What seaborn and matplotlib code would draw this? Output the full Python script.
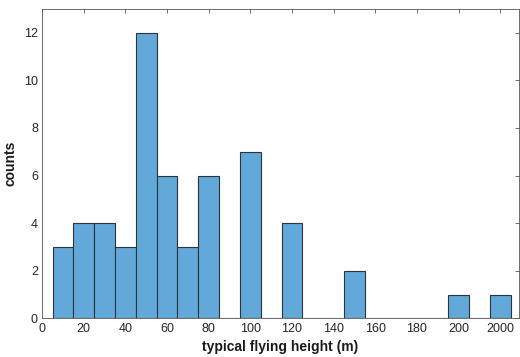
import matplotlib
matplotlib.use("Agg")
import matplotlib.pyplot as plt
import seaborn as sns
import pandas as pd

# bin centers (m) and counts
bin_centers = [10, 20, 30, 40, 50, 60, 70, 80, 100, 120, 150, 200, 220]
counts = [3, 4, 4, 3, 12, 6, 3, 6, 7, 4, 2, 1, 1]
bin_edges = list(range(5, 226, 10))
tick_positions = [0, 20, 40, 60, 80, 100, 120, 140, 160, 180, 200, 220]
tick_labels = ["0", "20", "40", "60", "80", "100", "120", "140", "160", "180", "200", "2000"]
y_ticks = [0, 2, 4, 6, 8, 10, 12]

df = pd.DataFrame({"height": bin_centers, "count": counts})

sns.set_style("white")
plt.rcParams["font.family"] = ["Liberation Sans", "DejaVu Sans"]

fig = plt.figure(figsize=(5.2, 3.57), dpi=100)
ax = fig.add_axes([0.081, 0.108, 0.917, 0.867])

sns.histplot(data=df, x="height", weights="count", bins=bin_edges, ax=ax,
             color="#62A8D8", alpha=1.0, edgecolor="#2a3540", linewidth=0.8)

ax.set_xlim(0, 229)
ax.set_ylim(0, 13)
ax.set_xticks(tick_positions)
ax.set_xticklabels(tick_labels)
ax.set_yticks(y_ticks)

for s in ax.spines.values():
    s.set_visible(True)
    s.set_color("#555555")
    s.set_linewidth(0.6)

ax.tick_params(axis="both", direction="in", length=3, width=0.6, colors="#555555",
               labelsize=9, top=True, right=True, labelcolor="#262626", pad=3)

ax.set_xlabel("typical flying height (m)", fontsize=10, fontweight="bold", color="#1a1a1a", labelpad=4)
ax.set_ylabel("counts", fontsize=10, fontweight="bold", color="#1a1a1a", labelpad=5)

fig.savefig("out.png", dpi=100)
